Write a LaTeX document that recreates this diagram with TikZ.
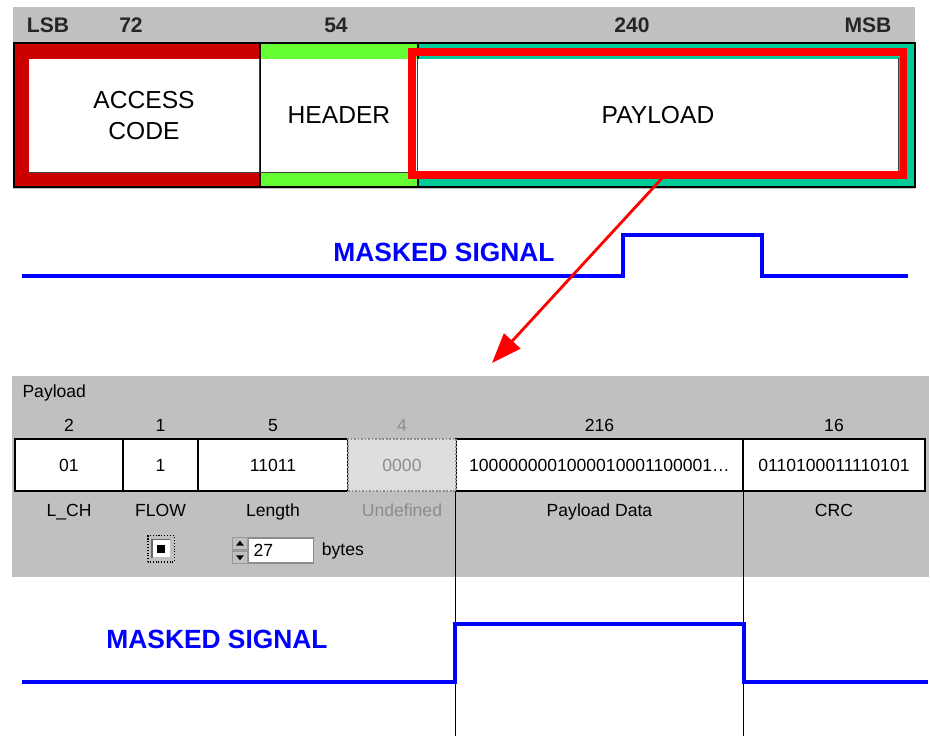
\documentclass[tikz,border=0pt]{standalone}
\usepackage{fontspec}
\setmainfont{Liberation Sans}
\usetikzlibrary{arrows.meta, positioning, calc}
\definecolor{panelgray}{HTML}{C0C0C0}
\definecolor{accred}{HTML}{CC0000}
\definecolor{hdrgreen}{HTML}{66FF33}
\definecolor{plteal}{HTML}{00CC99}
\definecolor{hilite}{HTML}{FF0000}
\definecolor{sigblue}{HTML}{0000FF}
\definecolor{ghost}{HTML}{8C8C8C}

\begin{document}
\begin{tikzpicture}[x=0.2mm, y=-0.2mm, >={Triangle[length=6mm, width=4.4mm]}, line width=0.6pt,
  whitebox/.style={fill=white, inner sep=0pt, minimum height=22.6mm, font=\fontsize{14}{17.6}\selectfont, align=center},
  cell/.style={draw=black, fill=white, line width=1pt, inner sep=0pt, minimum height=10.4mm, font=\fontsize{10}{12}\selectfont},
  small/.style={font=\fontsize{10}{12}\selectfont},
  topnum/.style={font=\fontsize{12}{14}\selectfont\bfseries, text=black!85},
  signal/.style={sigblue, line width=2pt},
  masked/.style={text=sigblue, font=\fontsize{15}{18}\selectfont\bfseries}]

\useasboundingbox (0,0) rectangle (930,736);

% Packet bar
\fill[panelgray] (13,7) rectangle (915,189);
\fill[accred] (14,43) rectangle (260,187);
\fill[hdrgreen] (260,43) rectangle (418,187);
\fill[plteal] (418,43) rectangle (915,187);
\draw (14,43) rectangle (915,187);
\draw (260,43) -- (260,187);
\draw (418,43) -- (418,187);

\node[whitebox, minimum width=46mm] (access) at (144,115.5) {ACCESS\\CODE};
\node[whitebox, minimum width=31.2mm] (header) at (339,115.5) {HEADER};
\node[whitebox, minimum width=96mm] (payload) at (658,115.5) {PAYLOAD};
\foreach \b in {access, header, payload} {
  \draw[black!75] (\b.north east) -- (\b.south east) -- (\b.south west);
}

% Field sizes
\foreach \t/\x in {LSB/48, 72/131, 54/336, 240/632, MSB/868} {
  \node[topnum] (top\t) at (\x,25) {\t};
}

% Selected field
\node[draw=hilite, line width=4pt, minimum width=98.3mm, minimum height=24.6mm, inner sep=0pt] (frame) at (657.75,113.5) {};

% Upper signal
\node[masked] (mask1) at (444,252) {MASKED SIGNAL};
\draw[signal] (22,276) -- (623,276) -- (623,235) -- (762,235) -- (762,276) -- (908,276);

% Zoom arrow
\coordinate (drop) at (492,363);
\draw[hilite, line width=1.6pt, ->] ($(frame.south)+(4,0)$) -- (drop);

% Payload panel
\fill[panelgray] (12,376) rectangle (929,577);
\node[small, anchor=base west, inner sep=0pt] (plabel) at (22,398) {Payload};

\foreach \n/\cx/\w/\v in {lch/69/21.6/01, flow/160.5/15/1, len/273/30/11011, crc/834/36.4/0110100011110101} {
  \node[cell, minimum width=\w mm] (\n) at (\cx,465) {\v};
}
\node[cell, minimum width=57.4mm] (data) at (599.5,465) {1000000001000010001100001\dots};
\node[cell, draw=ghost, densely dotted, fill=black!13, minimum width=21.6mm, text=ghost] (undef) at (402,465) {0000};

\foreach \n/\c in {lch/2, flow/1, len/5, data/216, crc/16} {
  \node[small, anchor=base] (num\n) at (\n |- 0,432) {\c};
}
\node[small, anchor=base, text=ghost] (numundef) at (undef |- 0,432) {4};

\foreach \n/\l in {lch/L\_CH, flow/FLOW, len/Length, data/Payload Data, crc/CRC} {
  \node[small, anchor=base] (lab\n) at (\n |- 0,517) {\l};
}
\node[small, anchor=base, text=ghost] (labundef) at (undef |- 0,517) {Undefined};

% FLOW check box
\node[fill=white, minimum size=3.4mm, inner sep=0pt] (chk) at (161,549) {};
\draw[black!60] (chk.south west) -- (chk.north west) -- (chk.north east);
\fill ($(chk.center)+(-4,-4)$) rectangle ($(chk.center)+(4,4)$);
\draw[densely dotted] ($(chk.south west)+(-4,4)$) rectangle ($(chk.north east)+(4,-4)$);

% Length spin box
\node[draw=black!45, fill=white, minimum height=5mm, text width=11mm, inner sep=1mm, align=left, anchor=west, small] (count) at (248,550.5) {27};
\node[fill=panelgray, draw=black!40, minimum width=3mm, minimum height=2.5mm, inner sep=0pt, anchor=south east] (up) at (count.west) {};
\node[fill=panelgray, draw=black!40, minimum width=3mm, minimum height=2.5mm, inner sep=0pt, anchor=north east] (down) at (count.west) {};
\fill ($(up.center)+(-4,2)$) -- ($(up.center)+(4,2)$) -- ($(up.center)+(0,-3)$) -- cycle;
\fill ($(down.center)+(-4,-2)$) -- ($(down.center)+(4,-2)$) -- ($(down.center)+(0,3)$) -- cycle;
\node[small, right=0.3mm of count] (unit) {bytes};

% Field edges carried down
\draw (data.south west) -- (data.south west |- 0,736);
\draw (data.south east) -- (data.south east |- 0,736);

% Lower signal
\node[masked] (mask2) at (217,639) {MASKED SIGNAL};
\draw[signal] (22,682) -- (data.south west |- 0,682) -- (data.south west |- 0,624)
  -- (data.south east |- 0,624) -- (data.south east |- 0,682) -- (928,682);

\end{tikzpicture}
\end{document}
